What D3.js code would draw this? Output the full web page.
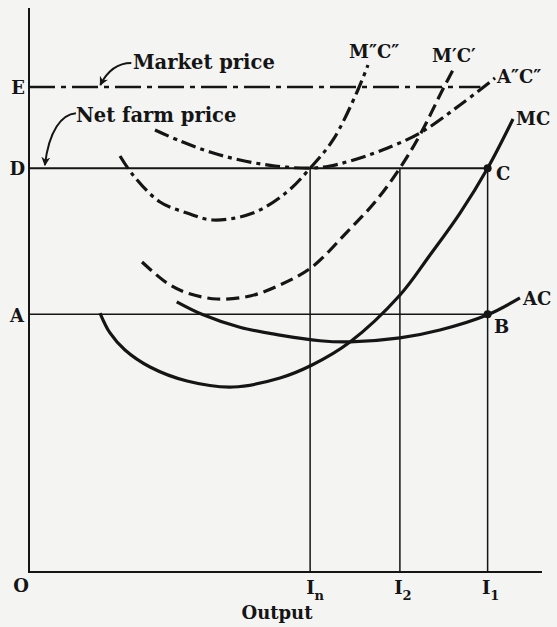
<!DOCTYPE html>
<html>
<head>
<meta charset="utf-8">
<script src="https://cdn.jsdelivr.net/npm/d3@7"></script>
<style>
  html, body { margin: 0; padding: 0; background: #f4f4f3; }
  svg { display: block; }
  text { font-family: "DejaVu Serif", "Liberation Serif", serif; font-weight: bold; fill: #151515; }
</style>
</head>
<body>
<script>
// Price levels (vertical axis) and output levels (horizontal axis)
const priceLevels = { E: 86, D: 71.6, A: 45.7 };
const outputLevels = { In: 54.8, I2: 72.3, I1: 89.4 };

// Cost curves: output values and matching cost values
const mcX = [13.84, 15.79, 18.71, 23.59, 30.80, 39.77, 48.93, 55.17, 62.57, 72.32, 78.17, 84.02, 89.4, 94.35];
const mcY = [45.92, 42.38, 39.36, 36.35, 33.87, 32.80, 34.40, 36.70, 40.78, 49.11, 56.21, 63.65, 71.6, 80.32];

const acX = [28.8, 33.7, 41.1, 48.9, 56.7, 62.6, 72.3, 80.1, 89.4, 95.7];
const acY = [47.9, 45.7, 43.4, 42.0, 41.0, 40.8, 41.5, 42.9, 45.6, 48.6];

const mc1X = [22.03, 26.90, 30.80, 36.65, 43.08, 48.93, 55.17, 61.99, 67.45, 72.3, 76.41, 80.70, 82.85];
const mc1Y = [54.96, 51.24, 49.47, 48.40, 48.94, 50.89, 54.08, 60.28, 65.60, 71.6, 77.84, 85.64, 89.36];

const mc2X = [17.74, 20.27, 25.54, 30.80, 35.87, 43.66, 50.29, 54.8, 59.26, 63.94, 66.08];
const mc2Y = [73.76, 70.39, 65.60, 63.65, 62.41, 63.65, 67.38, 71.6, 76.60, 85.11, 89.89];

const ac2X = [24.56, 29.43, 35.28, 41.13, 47.95, 54.8, 58.67, 62.57, 68.42, 76.22, 84.02, 90.84];
const ac2Y = [78.37, 76.42, 74.47, 73.05, 71.99, 71.6, 71.99, 72.87, 74.65, 77.84, 82.80, 87.59];

const marketPriceEnd = 88;

const W = 557, H = 627;
const x = d3.scaleLinear().domain([0, 100]).range([29, 542]);
const y = d3.scaleLinear().domain([0, 100]).range([572, 8]);

const svg = d3.select("body").append("svg").attr("width", W).attr("height", H);
const ink = "#151515";

const zip = (xs, ys) => xs.map((v, i) => [v, ys[i]]);
const line = d3.line().x(d => x(d[0])).y(d => y(d[1])).curve(d3.curveCatmullRom.alpha(0.5));

// Axes
const axis = d3.path();
axis.moveTo(x(0), y(100));
axis.lineTo(x(0), y(0));
axis.lineTo(x(100), y(0));
svg.append("path").attr("d", axis.toString()).attr("fill", "none")
  .attr("stroke", ink).attr("stroke-width", 2);

// Price lines
svg.append("line")
  .attr("x1", x(0)).attr("x2", x(marketPriceEnd))
  .attr("y1", y(priceLevels.E)).attr("y2", y(priceLevels.E))
  .attr("stroke", ink).attr("stroke-width", 2.4)
  .attr("stroke-dasharray", "26,6,5,6");
[priceLevels.D, priceLevels.A].forEach((p, i) => {
  svg.append("line")
    .attr("x1", x(0)).attr("x2", x(outputLevels.I1))
    .attr("y1", y(p)).attr("y2", y(p))
    .attr("stroke", ink).attr("stroke-width", i === 0 ? 2 : 1.6);
});

// Output drop lines
[outputLevels.In, outputLevels.I2, outputLevels.I1].forEach(o => {
  svg.append("line")
    .attr("x1", x(o)).attr("x2", x(o))
    .attr("y1", y(priceLevels.D)).attr("y2", y(0))
    .attr("stroke", ink).attr("stroke-width", 1.5);
});

// Cost curves
const curves = [
  { pts: zip(mcX, mcY), dash: null },
  { pts: zip(acX, acY), dash: null },
  { pts: zip(mc1X, mc1Y), dash: "13,6" },
  { pts: zip(mc2X, mc2Y), dash: "15,5,4,5" },
  { pts: zip(ac2X, ac2Y), dash: "15,5,4,5" }
];
curves.forEach(c => {
  svg.append("path").attr("d", line(c.pts)).attr("fill", "none")
    .attr("stroke", ink).attr("stroke-width", 3.2)
    .attr("stroke-dasharray", c.dash);
});

// Points C and B
[priceLevels.D, priceLevels.A].forEach(p => {
  svg.append("circle").attr("cx", x(outputLevels.I1)).attr("cy", y(p))
    .attr("r", 4).attr("fill", ink);
});

// Annotation arrows
svg.append("defs").append("marker")
  .attr("id", "head").attr("viewBox", "0 0 10 10")
  .attr("refX", 9).attr("refY", 5)
  .attr("markerWidth", 9).attr("markerHeight", 9)
  .attr("markerUnits", "userSpaceOnUse")
  .attr("orient", "auto")
  .append("path").attr("d", "M0,0 L10,5 L0,10 L3,5 Z").attr("fill", ink);

const mTipX = x(13.9), mTipY = y(priceLevels.E) - 2;
svg.append("path")
  .attr("d", `M${mTipX + 31},${mTipY - 22} C${mTipX + 17},${mTipY - 22} ${mTipX + 7},${mTipY - 14} ${mTipX},${mTipY}`)
  .attr("fill", "none").attr("stroke", ink).attr("stroke-width", 2)
  .attr("marker-end", "url(#head)");

const nTipX = x(3.1), nTipY = y(priceLevels.D) - 3;
svg.append("path")
  .attr("d", `M${nTipX + 31},${nTipY - 52} C${nTipX + 17},${nTipY - 51} ${nTipX + 4},${nTipY - 35} ${nTipX},${nTipY}`)
  .attr("fill", "none").attr("stroke", ink).attr("stroke-width", 2)
  .attr("marker-end", "url(#head)");

// Text labels
const label = (t, px, py, size, anchor) =>
  svg.append("text").attr("x", px).attr("y", py)
    .attr("font-size", size).attr("text-anchor", anchor || "start").text(t);

label("Market price", 133, 69, 19.5);
label("Net farm price", 76, 122, 19.5);

label("E", 25, y(priceLevels.E) + 7, 18, "end");
label("D", 25, y(priceLevels.D) + 7, 18, "end");
label("A", 24, y(priceLevels.A) + 8, 18, "end");
label("O", 21, 592, 18, "middle");

const sub = (main, s, cx) => {
  const t = svg.append("text").attr("x", cx).attr("y", 594).attr("font-size", 18).attr("text-anchor", "middle");
  t.append("tspan").text(main);
  t.append("tspan").attr("font-size", 13).attr("dy", 6).text(s);
};
sub("I", "n", x(outputLevels.In) + 5);
sub("I", "2", x(outputLevels.I2) + 3);
sub("I", "1", x(outputLevels.I1) + 3);

label("Output", 277, 619, 18, "middle");

label("M″C″", 349, 58, 18);
label("M′C′", 432, 62, 18);
label("A″C″", 497, 83, 18);
label("MC", 516, 125, 18);
label("C", 496, 180, 18);
label("B", 494, 333, 18);
label("AC", 523, 305, 18);
</script>
</body>
</html>
